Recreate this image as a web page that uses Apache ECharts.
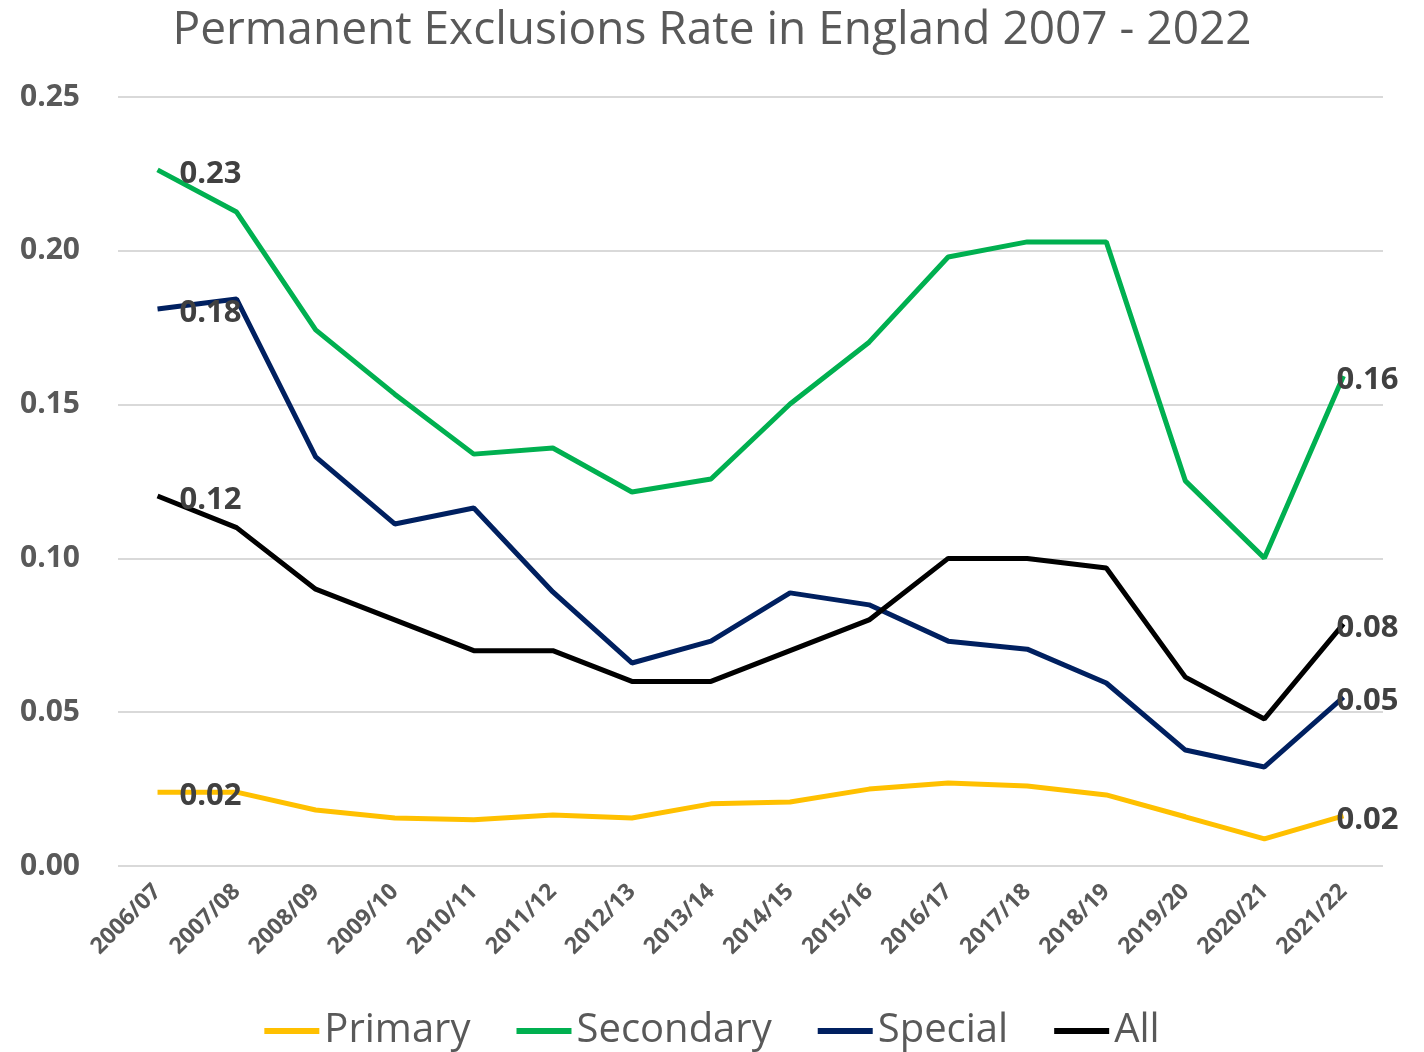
<!DOCTYPE html>
<head>
    <meta charset="utf-8"/>
    <style>
        html,body { height:100%; width:100%; margin:0; padding:0; background:#fff; }
    </style>
</head>
<body>
<div id="chart" style="width:1424px;height:1052px"></div>
<script src="https://cdn.jsdelivr.net/npm/echarts@6/dist/echarts.min.js"></script>
<script type="text/javascript">
 // years on the x axis
 var years = ['2006/07','2007/08','2008/09','2009/10','2010/11','2011/12','2012/13','2013/14',
              '2014/15','2015/16','2016/17','2017/18','2018/19','2019/20','2020/21','2021/22'];
 // rates
 var primary   = [0.024,0.024,0.0182,0.0156,0.015,0.0166,0.0156,0.0202,0.0208,0.025,0.027,0.026,0.0231,0.016,0.0088,0.0163];
 var secondary = [0.2263,0.2126,0.1743,0.1534,0.1339,0.1359,0.1216,0.1258,0.1502,0.1703,0.198,0.2029,0.2029,0.1252,0.1001,0.1593];
 var special   = [0.1811,0.1843,0.133,0.1112,0.1164,0.0891,0.066,0.0731,0.0888,0.0849,0.0731,0.0705,0.0595,0.0377,0.0322,0.0549];
 var all       = [0.1203,0.110,0.09,0.08,0.07,0.07,0.06,0.06,0.07,0.08,0.10,0.10,0.0969,0.0614,0.0478,0.0787];
 var yTicks = [0, 0.05, 0.10, 0.15, 0.20, 0.25];

 var font = 'Open Sans, Noto Sans, sans-serif';

 // only the first and last point get a label
 function withLabels(arr){
    return arr.map(function(v, i){
        var item = { value: v };
        if (i === 0) item.label = { show: true, position: 'right', distance: 22, offset: [0, 4] };
        if (i === arr.length - 1) item.label = { show: true, position: 'right', distance: -7, offset: [0, 4] };
        return item;
    });
 }

 function makeSeries(name, arr, color){
    return {
        name: name,
        type: 'line',
        symbol: 'circle',
        symbolSize: 0,
        showSymbol: true,
        data: withLabels(arr),
        lineStyle: { color: color, width: 5 },
        itemStyle: { color: color },
        label: {
            show: false,
            color: '#404040',
            fontFamily: font,
            fontWeight: 'bold',
            fontSize: 31,
            formatter: function(p){ return p.value.toFixed(2); }
        }
    };
 }

 var myChart = echarts.init(document.getElementById('chart'));
 myChart.setOption({
    animation: false,
    title: {
        text: 'Permanent Exclusions Rate in England 2007 - 2022',
        left: 'center',
        top: 3,
        textStyle: { color: '#595959', fontFamily: font, fontWeight: 'normal', fontSize: 46 }
    },
    legend: {
        bottom: -4,
        left: 'center',
        itemWidth: 55,
        itemHeight: 6,
        itemGap: 46,
        icon: 'rect',
        textStyle: { color: '#595959', fontFamily: font, fontSize: 40 },
        data: ['Primary','Secondary','Special','All']
    },
    grid: { left: 118, right: 41, top: 97, bottom: 186 },
    xAxis: {
        type: 'category',
        data: years,
        boundaryGap: true,
        axisLine: { show: false },
        axisTick: { show: false },
        axisLabel: {
            rotate: 45,
            interval: 0,
            margin: 22,
            color: '#595959',
            fontFamily: font,
            fontWeight: 'bold',
            fontSize: 23
        }
    },
    yAxis: {
        type: 'value',
        min: yTicks[0],
        max: yTicks[yTicks.length - 1],
        interval: 0.05,
        axisLine: { show: false },
        axisTick: { show: false },
        splitLine: { lineStyle: { color: '#d9d9d9', width: 2 } },
        axisLabel: {
            margin: 38,
            color: '#595959',
            fontFamily: font,
            fontWeight: 'bold',
            fontSize: 30,
            formatter: function(v){ return v.toFixed(2); }
        }
    },
    series: [
        makeSeries('Primary', primary, '#FFC000'),
        makeSeries('Secondary', secondary, '#00B050'),
        makeSeries('Special', special, '#002060'),
        makeSeries('All', all, '#000000')
    ]
 });
</script>
</body>
